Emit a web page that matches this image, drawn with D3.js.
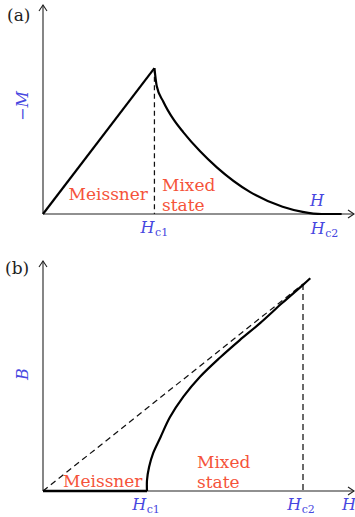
<!DOCTYPE html>
<html>
<head>
<meta charset="utf-8">
<script src="https://cdn.jsdelivr.net/npm/d3@7/dist/d3.min.js"></script>
<style>
  html, body { margin: 0; padding: 0; background: #fff; }
  svg { display: block; }
</style>
</head>
<body>
<svg id="chart" width="355" height="517" font-family="'DejaVu Serif', 'Liberation Serif', serif"></svg>
<script>
// (a) magnetisation -M versus applied field H (H in units of Hc1, -M in units of Hc1)
const meissnerH_a = [0, 1.0];
const meissnerM_a = [0, 1.0];
const mixedH_a = [1.0, 1.02, 1.08, 1.17, 1.26, 1.41, 1.56, 1.86, 2.15, 2.33, 2.5, 2.68];
const mixedM_a = [1.0, 0.88, 0.77, 0.65, 0.56, 0.43, 0.32, 0.15, 0.05, 0.015, 0, 0];

// (b) induction B versus applied field H
const meissnerH_b = [0, 1.0];
const meissnerB_b = [0, 0];
const mixedH_b = [1.0, 1.0, 1.02, 1.06, 1.13, 1.22, 1.35, 1.51, 1.70, 1.89, 2.09, 2.30, 2.50, 2.57];
const mixedB_b = [0, 0.13, 0.29, 0.46, 0.65, 0.89, 1.14, 1.38, 1.61, 1.82, 2.03, 2.27, 2.49, 2.57];
const normalH_b = [0, 2.5];   // reference line B = H
const normalB_b = [0, 2.5];

// critical fields and their tick labels
const criticalFields = [1.0, 2.5];
const criticalSubs = ["c1", "c2"];

const RED = "#f5533a";
const BLUE = "#4747e0";

const svg = d3.select("#chart");

function zip(xs, ys) { return xs.map((x, i) => [x, ys[i]]); }

function drawAxes(g, x, y) {
  const [x0, x1] = x.range();
  const [y0, y1] = y.range();
  const ax = g.append("g").attr("stroke", "#222").attr("stroke-width", 1.1).attr("fill", "none");
  ax.append("line").attr("x1", x0).attr("y1", y0).attr("x2", x1 - 1).attr("y2", y0);
  ax.append("line").attr("x1", x0).attr("y1", y0).attr("x2", x0).attr("y2", y1 + 1);
  // open arrow heads
  ax.append("path").attr("d", `M${x1 - 7},${y0 - 4}L${x1 - 1},${y0}L${x1 - 7},${y0 + 4}`);
  ax.append("path").attr("d", `M${x0 - 4},${y1 + 7}L${x0},${y1 + 1}L${x0 + 4},${y1 + 7}`);
}

function fieldLabel(g, xPos, yBase, sub, anchor) {
  const t = g.append("text").attr("x", xPos).attr("y", yBase)
    .attr("fill", BLUE).attr("text-anchor", anchor || "middle");
  t.append("tspan").attr("font-style", "italic").attr("font-size", 16).text("H");
  if (sub) t.append("tspan").attr("font-size", 11).attr("dy", 3).attr("dx", 0.5).text(sub);
  return t;
}

function redText(g, xPos, yBase, lines, anchor) {
  lines.forEach((s, i) => {
    g.append("text").attr("x", xPos).attr("y", yBase + i * 20)
      .attr("fill", RED).attr("font-size", 17).attr("text-anchor", anchor || "start").text(s);
  });
}

const dashStyle = sel => sel.attr("fill", "none").attr("stroke", "#111").attr("stroke-width", 1.25);

// ---------- panel (a) ----------
{
  const g = svg.append("g");
  const x = d3.scaleLinear().domain([0, 2.8]).range([43, 355]);
  const y = d3.scaleLinear().domain([0, 1.44]).range([214, 4]);
  const line = d3.line().x(d => x(d[0])).y(d => y(d[1]));

  // dashed marker at Hc1
  g.append("line").attr("x1", x(criticalFields[0])).attr("x2", x(criticalFields[0]))
    .attr("y1", y(meissnerM_a[1])).attr("y2", y(0))
    .call(dashStyle).attr("stroke-dasharray", "5,3.5");

  drawAxes(g, x, y);

  g.append("path").datum(zip(meissnerH_a, meissnerM_a)).attr("d", line)
    .attr("fill", "none").attr("stroke", "#000").attr("stroke-width", 2.2);
  g.append("path").datum(zip(mixedH_a, mixedM_a))
    .attr("d", line.curve(d3.curveMonotoneX))
    .attr("fill", "none").attr("stroke", "#000").attr("stroke-width", 2.2)
    .attr("stroke-linejoin", "round");

  g.append("text").attr("x", 7).attr("y", 21).attr("font-size", 17).attr("fill", "#222").text("(a)");
  g.append("text").attr("transform", "translate(28,106) rotate(-90)")
    .attr("text-anchor", "middle").attr("fill", BLUE).attr("font-size", 16)
    .html('<tspan>\u2212</tspan><tspan font-style="italic">M</tspan>');

  redText(g, 148, 200, ["Meissner"], "end");
  redText(g, 162, 191, ["Mixed", "state"]);

  fieldLabel(g, x(criticalFields[0]), 233, criticalSubs[0]);
  fieldLabel(g, x(criticalFields[1]) + 3, 234, criticalSubs[1]);
  fieldLabel(g, 317, 206, null);
}

// ---------- panel (b) ----------
{
  const g = svg.append("g");
  const x = d3.scaleLinear().domain([0, 3.0]).range([43, 355]);
  const y = d3.scaleLinear().domain([0, 2.79]).range([491, 260]);
  const line = d3.line().x(d => x(d[0])).y(d => y(d[1]));

  // B = H reference and dashed marker at Hc2
  g.append("path").datum(zip(normalH_b, normalB_b)).attr("d", line)
    .call(dashStyle).attr("stroke-dasharray", "6,4");
  g.append("line").attr("x1", x(criticalFields[1])).attr("x2", x(criticalFields[1]))
    .attr("y1", y(normalB_b[1])).attr("y2", y(0))
    .call(dashStyle).attr("stroke-dasharray", "6,4");

  drawAxes(g, x, y);

  g.append("path").datum(zip(meissnerH_b, meissnerB_b)).attr("d", line)
    .attr("fill", "none").attr("stroke", "#000").attr("stroke-width", 2.4);
  g.append("path").datum(zip(mixedH_b, mixedB_b))
    .attr("d", line.curve(d3.curveCatmullRom.alpha(0.5)))
    .attr("fill", "none").attr("stroke", "#000").attr("stroke-width", 2.2)
    .attr("stroke-linejoin", "round");

  g.append("text").attr("x", 5).attr("y", 274).attr("font-size", 17).attr("fill", "#222").text("(b)");
  g.append("text").attr("transform", "translate(28,374) rotate(-90)")
    .attr("text-anchor", "middle").attr("fill", BLUE).attr("font-size", 16)
    .attr("font-style", "italic").text("B");

  redText(g, 63, 487, ["Meissner"]);
  redText(g, 197, 468, ["Mixed", "state"]);

  fieldLabel(g, x(criticalFields[0]) - 1, 510, criticalSubs[0]);
  fieldLabel(g, x(criticalFields[1]) - 2, 510, criticalSubs[1]);
  fieldLabel(g, 342, 510, null, "start");
}
</script>
</body>
</html>
